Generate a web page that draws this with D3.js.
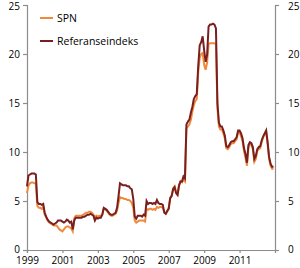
<!DOCTYPE html>
<html>
<head>
<meta charset="utf-8">
<script src="https://d3js.org/d3.v7.min.js"></script>
<style>
  body { margin: 0; background: #fff; }
  text { font-family: "Open Sans", sans-serif; fill: #000; }
</style>
</head>
<body>
<div id="chart"></div>
<script>
// monthly data, Jan 1999 - Dec 2012
var startYear = 1999;
var refValues = [
  6.5, 7.6, 7.7, 7.8, 7.8, 7.8, 7.7, 4.9, 4.7, 4.7, 4.6, 4.7,
  3.8, 3.4, 3.1, 2.9, 2.8, 2.7, 2.6, 2.7, 2.8, 3.0, 3.0, 3.0,
  2.9, 2.8, 2.9, 3.1, 3.0, 2.8, 2.9, 2.1, 3.0, 3.3, 3.3, 3.3,
  3.3, 3.3, 3.4, 3.4, 3.5, 3.6, 3.6, 3.7, 3.6, 3.5, 3.0, 3.3,
  3.2, 3.3, 3.3, 3.6, 4.3, 4.2, 4.1, 3.9, 3.7, 3.6, 3.6, 3.7,
  3.8, 4.3, 5.5, 6.8, 6.7, 6.6, 6.6, 6.6, 6.5, 6.5, 6.3, 6.2,
  5.2, 3.4, 3.2, 3.5, 3.5, 3.5, 3.4, 3.6, 3.5, 5.0, 4.7, 4.8,
  4.8, 4.7, 4.8, 4.7, 5.1, 4.8, 4.7, 4.7, 4.6, 3.8, 3.7, 4.0,
  4.2, 5.3, 5.5, 6.2, 6.4, 5.8, 5.6, 6.6, 7.0, 7.0, 7.5, 7.3,
  12.8, 13.1, 13.3, 14.0, 14.6, 15.4, 15.7, 15.9, 18.8, 20.9, 21.2, 21.8,
  20.4, 19.2, 19.9, 22.8, 23.0, 23.0, 23.1, 23.0, 22.6, 15.0, 13.0, 12.6,
  12.6, 12.2, 11.7, 10.6, 10.5, 10.7, 11.0, 11.1, 11.1, 11.3, 11.5, 12.2,
  12.2, 11.9, 11.4, 10.4, 9.8, 8.9, 10.7, 11.0, 10.9, 10.5, 9.3, 9.6,
  10.3, 10.5, 10.6, 11.2, 11.6, 11.9, 12.2, 11.0, 9.5, 8.8, 8.5, 8.5
];
var spnValues = [
  5.8, 6.6, 6.8, 6.9, 6.9, 6.8, 6.8, 4.5, 4.3, 4.3, 4.2, 4.4,
  3.6, 3.3, 3.0, 2.8, 2.7, 2.6, 2.5, 2.5, 2.5, 2.3, 2.1, 2.0,
  1.9, 2.1, 2.3, 2.4, 2.4, 2.3, 2.2, 1.9, 3.2, 3.5, 3.5, 3.5,
  3.5, 3.5, 3.6, 3.7, 3.8, 3.8, 3.9, 3.9, 3.8, 3.6, 3.3, 3.5,
  3.4, 3.5, 3.5, 3.6, 4.2, 4.2, 4.0, 3.8, 3.6, 3.5, 3.5, 3.6,
  3.7, 4.0, 4.8, 5.4, 5.3, 5.3, 5.2, 5.2, 5.1, 5.1, 5.0, 4.8,
  4.3, 3.0, 2.8, 2.9, 3.0, 3.0, 3.0, 3.0, 2.9, 4.2, 4.1, 4.2,
  4.2, 4.1, 4.2, 4.1, 4.4, 4.3, 4.4, 4.4, 4.3, 3.9, 3.7, 3.9,
  4.3, 5.3, 5.6, 6.3, 6.5, 5.9, 5.7, 6.6, 7.0, 6.9, 7.2, 7.0,
  12.4, 12.6, 12.8, 13.3, 14.1, 14.8, 15.2, 15.4, 18.2, 19.6, 20.0, 20.1,
  18.9, 18.4, 19.1, 21.0, 21.1, 21.1, 21.1, 21.1, 21.0, 14.5, 12.6, 12.3,
  12.3, 11.9, 11.4, 10.4, 10.3, 10.5, 10.8, 10.9, 10.9, 11.1, 11.3, 12.0,
  12.0, 11.6, 11.1, 10.1, 9.4, 8.6, 10.5, 10.8, 10.7, 10.3, 9.0, 9.3,
  10.1, 10.3, 10.4, 11.0, 11.5, 11.8, 12.1, 10.8, 9.3, 8.6, 8.3, 8.3
];
var seriesNames = ["SPN", "Referanseindeks"];
var seriesColors = ["#f0893c", "#7a1f1f"];
var yTicks = [0, 5, 10, 15, 20, 25];
var xTickYears = [1999, 2001, 2003, 2005, 2007, 2009, 2011];

var width = 300, height = 268;
var margin = { left: 27, right: 275, top: 5, bottom: 250 };

var svg = d3.select("#chart").append("svg")
  .attr("width", width)
  .attr("height", height);

var x = d3.scaleLinear().domain([1999, 2013]).range([margin.left, margin.right]);
var y = d3.scaleLinear().domain([0, 25]).range([margin.bottom, margin.top]);

function toPoints(vals) {
  return vals.map(function (v, i) { return { t: startYear + i / 12, v: v }; });
}

var line = d3.line()
  .x(function (d) { return x(d.t); })
  .y(function (d) { return y(d.v); });

// axes
var axisColor = "#8c8c8c";
var yLeft = svg.append("g")
  .attr("transform", "translate(" + margin.left + ",0)")
  .call(d3.axisLeft(y).tickValues(yTicks).tickSize(4).tickPadding(3));
var yRight = svg.append("g")
  .attr("transform", "translate(" + margin.right + ",0)")
  .call(d3.axisRight(y).tickValues(yTicks).tickSize(4).tickPadding(9));
var xAxis = svg.append("g")
  .attr("transform", "translate(0," + margin.bottom + ")")
  .call(d3.axisBottom(x).tickValues(xTickYears).tickFormat(d3.format("d")).tickSize(3).tickPadding(4));

[yLeft, yRight, xAxis].forEach(function (g) {
  g.select(".domain").attr("stroke", axisColor).attr("stroke-width", 1.2);
  g.selectAll(".tick line").attr("stroke", axisColor).attr("stroke-width", 1.2);
  g.selectAll("text").style("font-size", "10px").attr("fill", "#000");
});
// top label nudged down so it fits, bottom one kept clear of the years
[yLeft, yRight].forEach(function (g) {
  g.selectAll("text").attr("dy", function (d) {
    return d === 25 ? "0.42em" : (d === 0 ? "0.2em" : "0.32em");
  });
});

// lines
svg.append("path")
  .datum(toPoints(spnValues))
  .attr("d", line)
  .attr("fill", "none")
  .attr("stroke", seriesColors[0])
  .attr("stroke-width", 2);

svg.append("path")
  .datum(toPoints(refValues))
  .attr("d", line)
  .attr("fill", "none")
  .attr("stroke", seriesColors[1])
  .attr("stroke-width", 2);

// legend
var legend = svg.append("g");
seriesNames.forEach(function (name, i) {
  var ly = 18 + i * 23;
  legend.append("line")
    .attr("x1", 40).attr("x2", 53)
    .attr("y1", ly).attr("y2", ly)
    .attr("stroke", seriesColors[i])
    .attr("stroke-width", 2);
  legend.append("text")
    .attr("x", 57).attr("y", ly + 4)
    .style("font-size", "10.5px")
    .text(name);
});
</script>
</body>
</html>
